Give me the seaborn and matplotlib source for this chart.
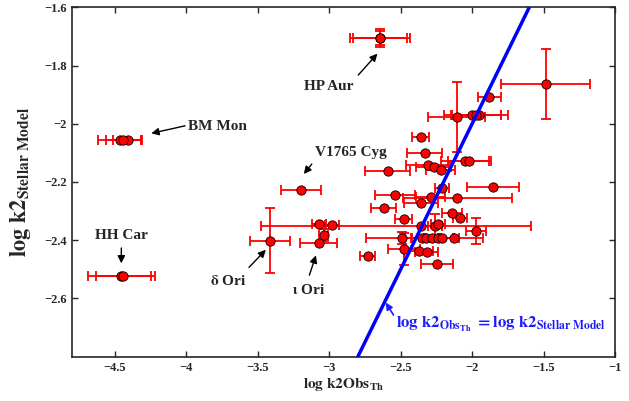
import matplotlib
matplotlib.use('Agg')
import matplotlib.pyplot as plt
import seaborn as sns
import pandas as pd

x_obs = [-2.643, -2.643, -4.466, -4.41, -4.44, -4.455, -4.44, -3.198, -3.413, -3.074,
         -3.04, -2.98, -3.07, -2.36, -2.107, -2.0, -1.95, -1.97, -1.879, -1.485,
         -2.359, -2.333, -2.05, -2.02, -2.592, -2.31, -2.27, -2.22, -1.855, -2.212,
         -2.538, -2.29, -2.103, -2.359, -2.62, -2.143, -2.084, -2.48, -2.26, -2.24,
         -1.972, -2.49, -2.352, -2.32, -2.28, -2.236, -2.21, -2.124, -2.478, -2.375,
         -2.317, -2.732, -2.247]
y_model = [-1.705, -1.705, -2.055, -2.055, -2.055, -2.524, -2.524, -2.229, -2.401, -2.409,
           -2.381, -2.346, -2.343, -2.35, -1.977, -1.97, -1.97, -1.97, -1.909, -1.863,
           -2.044, -2.1, -2.129, -2.129, -2.161, -2.14, -2.15, -2.16, -2.217, -2.219,
           -2.246, -2.253, -2.255, -2.272, -2.289, -2.306, -2.323, -2.326, -2.35, -2.345,
           -2.369, -2.392, -2.392, -2.392, -2.392, -2.392, -2.392, -2.392, -2.429, -2.436,
           -2.439, -2.455, -2.481]
xerr_lo = [0.21, 0.19, 0.152, 0.1, 0.12, 0.235, 0.19, 0.14, 0.14, 0.13,
           0.03, 0.05, 0.05, 1.12, 0.2, 0.2, 0.2, 0.17, 0.08, 0.31,
           0.06, 0.125, 0.17, 0.15, 0.155, 0.15, 0.12, 0.1, 0.18, 0.05,
           0.14, 0.1, 0.38, 0.12, 0.09, 0.07, 0.05, 0.06, 0.05, 0.05,
           0.07, 0.25, 0.12, 0.1, 0.15, 0.1, 0.12, 0.2, 0.11, 0.1,
           0.08, 0.05, 0.11]
xerr_hi = [0.21, 0.19, 0.152, 0.1, 0.12, 0.235, 0.19, 0.14, 0.14, 0.13,
           0.03, 0.05, 0.05, 0.77, 0.2, 0.2, 0.2, 0.17, 0.08, 0.31,
           0.06, 0.125, 0.17, 0.15, 0.155, 0.15, 0.12, 0.1, 0.18, 0.05,
           0.14, 0.1, 0.38, 0.12, 0.09, 0.07, 0.05, 0.06, 0.05, 0.05,
           0.07, 0.25, 0.12, 0.1, 0.15, 0.1, 0.12, 0.2, 0.11, 0.1,
           0.08, 0.05, 0.11]
y_err = [0.03, 0.025, 0, 0, 0, 0, 0, 0, 0.11, 0,
         0.02, 0, 0, 0, 0.12, 0, 0, 0, 0, 0.12,
         0, 0, 0, 0, 0, 0, 0, 0, 0, 0,
         0, 0, 0, 0, 0, 0, 0, 0, 0.04, 0,
         0.045, 0.02, 0, 0, 0, 0, 0, 0, 0.055, 0,
         0, 0, 0]

# labelled stars: name, text position, arrow tail, arrow tip
star_names = ['HP Aur', 'BM Mon', 'V1765 Cyg', 'HH Car', r'$\mathbf{\delta}$ Ori', r'$\mathbf{\iota}$ Ori']
text_pos = [(-3.0, -1.873), (-3.986, -2.01), (-3.098, -2.1), (-4.455, -2.384), (-3.706, -2.54), (-3.147, -2.572)]
text_ha = ['center', 'left', 'left', 'center', 'center', 'center']
arrow_tail = [(-2.81, -1.84), (-3.99, -2.005), (-3.11, -2.131), (-4.455, -2.417), (-3.575, -2.5), (-3.145, -2.529)]
arrow_tip = [(-2.65, -1.752), (-4.264, -2.035), (-3.19, -2.18), (-4.455, -2.489), (-3.43, -2.426), (-3.087, -2.443)]

df = pd.DataFrame({'x': x_obs, 'y': y_model, 'xlo': xerr_lo, 'xhi': xerr_hi, 'yerr': y_err})

sns.set_style('ticks')
plt.rcParams['font.family'] = ['Liberation Serif', 'DejaVu Serif']
plt.rcParams['font.weight'] = 'bold'
plt.rcParams['mathtext.fontset'] = 'stix'
plt.rcParams['xtick.direction'] = 'in'
plt.rcParams['ytick.direction'] = 'in'

fig = plt.figure(figsize=(6.29, 4.01), dpi=100)
ax = fig.add_axes([0.1145, 0.1105, 0.8633, 0.8713])

ax.errorbar(df['x'], df['y'], xerr=[df['xlo'], df['xhi']], yerr=df['yerr'],
            fmt='none', ecolor='red', elinewidth=1.3, capsize=3.5, capthick=1.3, zorder=2)
sns.scatterplot(data=df, x='x', y='y', marker='o', color='red', edgecolor='black',
                s=45, linewidth=0.6, ax=ax, zorder=4)

# one-to-one relation
ax.axline((-2, -2), slope=1, color='#0000ff', lw=2.5, zorder=5)

for name, tp, ha, tail, tip in zip(star_names, text_pos, text_ha, arrow_tail, arrow_tip):
    ax.text(tp[0], tp[1], name, ha=ha, va='center', fontsize=11, fontweight='bold')
    ax.annotate('', xy=tip, xytext=tail,
                arrowprops=dict(arrowstyle='-|>', color='black', lw=1, mutation_scale=11))

ax.text(-2.53, -2.69, r'$\mathbf{log\ k2_{Obs_{Th}}\ =log\ k2_{Stellar\ Model}}$',
        color='#1a1aff', fontsize=12, ha='left', va='center')
ax.annotate('', xy=(-2.615, -2.606), xytext=(-2.54, -2.665),
            arrowprops=dict(arrowstyle='-|>', color='#1a1aff', lw=1.2, mutation_scale=10))

ax.set_xlim(-4.8, -1)
ax.set_ylim(-2.8, -1.6)
ax.set_xticks([-4.5, -4, -3.5, -3, -2.5, -2, -1.5, -1])
ax.set_xticklabels(['\u22124.5', '\u22124', '\u22123.5', '\u22123', '\u22122.5', '\u22122', '\u22121.5', '\u22121'])
ax.set_yticks([-2.6, -2.4, -2.2, -2, -1.8, -1.6])
ax.set_yticklabels(['\u22122.6', '\u22122.4', '\u22122.2', '\u22122', '\u22121.8', '\u22121.6'])
ax.tick_params(top=True, right=True, labelsize=9, length=4, width=1)
for sp in ax.spines.values():
    sp.set_linewidth(1.2)

ax.set_xlabel(r'$\mathbf{log\ k2Obs_{Th}}$', fontsize=11, labelpad=2)
ax.set_ylabel(r'$\mathbf{log\ k2_{Stellar\ Model}}$', fontsize=16, labelpad=8)

fig.savefig('out.png', dpi=100)
